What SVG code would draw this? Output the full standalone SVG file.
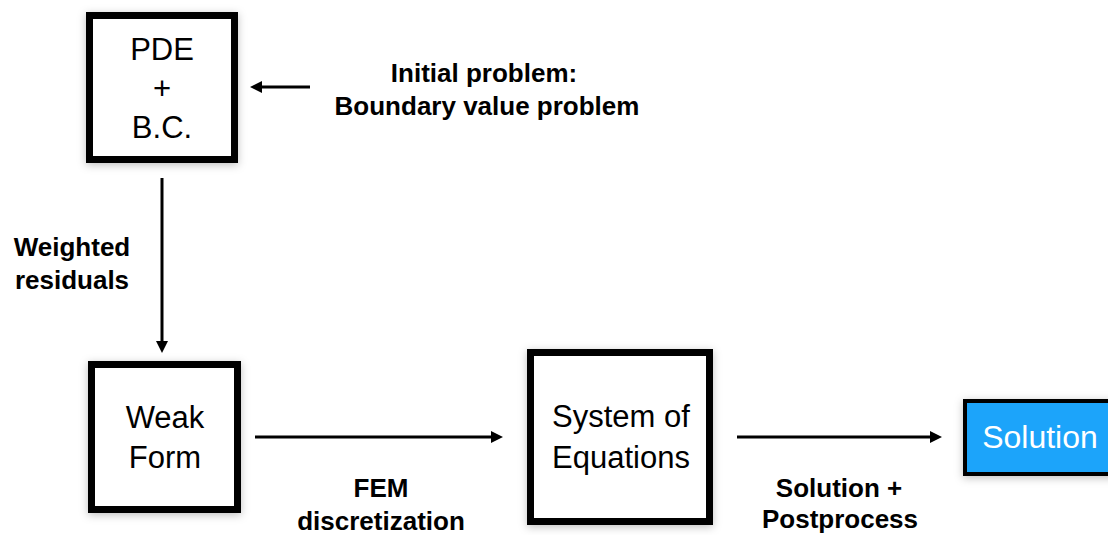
<svg xmlns="http://www.w3.org/2000/svg" width="1108" height="535" viewBox="0 0 1108 535">
  <defs>
    <style>
      .box { fill: #ffffff; stroke: #000000; stroke-width: 7; filter: url(#shadow); }
      .sol { fill: #1ea4fa; stroke: #000000; stroke-width: 4; filter: url(#shadow); }
      .nt { font-family: "Liberation Sans", Arial, sans-serif; font-size: 31px; fill: #000; text-anchor: middle; }
      .st { font-family: "Liberation Sans", Arial, sans-serif; font-size: 32px; fill: #ffffff; text-anchor: middle; }
      .lb { font-family: "Liberation Sans", Arial, sans-serif; font-size: 26px; font-weight: bold; fill: #000; text-anchor: middle; }
      .conn { stroke: #000; stroke-width: 3; fill: none; marker-end: url(#arrow); }
    </style>
    <marker id="arrow" markerUnits="userSpaceOnUse" markerWidth="13" markerHeight="13" refX="4" refY="6" orient="auto">
      <path d="M0,0 L12,6 L0,12 z" fill="#000"/>
    </marker>
    <filter id="shadow" x="-20%" y="-20%" width="140%" height="140%">
      <feDropShadow dx="0" dy="2" stdDeviation="4" flood-color="#000" flood-opacity="0.25"/>
    </filter>
  </defs>
  <rect width="1108" height="535" fill="#ffffff"/>

  <g id="connectors">
    <line class="conn" x1="310" y1="87" x2="258" y2="87"/>
    <line class="conn" x1="162" y1="178" x2="162" y2="345"/>
    <line class="conn" x1="255" y1="437" x2="495" y2="437"/>
    <line class="conn" x1="737" y1="437" x2="934" y2="437"/>
  </g>

  <g id="pde">
    <rect class="box" x="89.5" y="15.5" width="145" height="144"/>
    <text class="nt" x="162" y="60">PDE</text>
    <text class="nt" x="162" y="99">+</text>
    <text class="nt" x="162" y="138">B.C.</text>
  </g>

  <g id="weak">
    <rect class="box" x="91.5" y="364.5" width="146" height="145"/>
    <text class="nt" x="165" y="428">Weak</text>
    <text class="nt" x="165" y="468">Form</text>
  </g>

  <g id="system">
    <rect class="box" x="530.5" y="352.5" width="179" height="169"/>
    <text class="nt" x="621" y="427">System of</text>
    <text class="nt" x="621" y="468">Equations</text>
  </g>

  <g id="solution">
    <rect class="sol" x="965" y="401" width="150" height="73"/>
    <text class="st" x="1040" y="448">Solution</text>
  </g>

  <g id="labels">
    <text class="lb" x="484" y="82">Initial problem:</text>
    <text class="lb" x="487" y="115">Boundary value problem</text>
    <text class="lb" x="72" y="256">Weighted</text>
    <text class="lb" x="72" y="289">residuals</text>
    <text class="lb" x="381" y="497">FEM</text>
    <text class="lb" x="381" y="530">discretization</text>
    <text class="lb" x="839" y="497">Solution +</text>
    <text class="lb" x="840" y="528">Postprocess</text>
  </g>
</svg>
